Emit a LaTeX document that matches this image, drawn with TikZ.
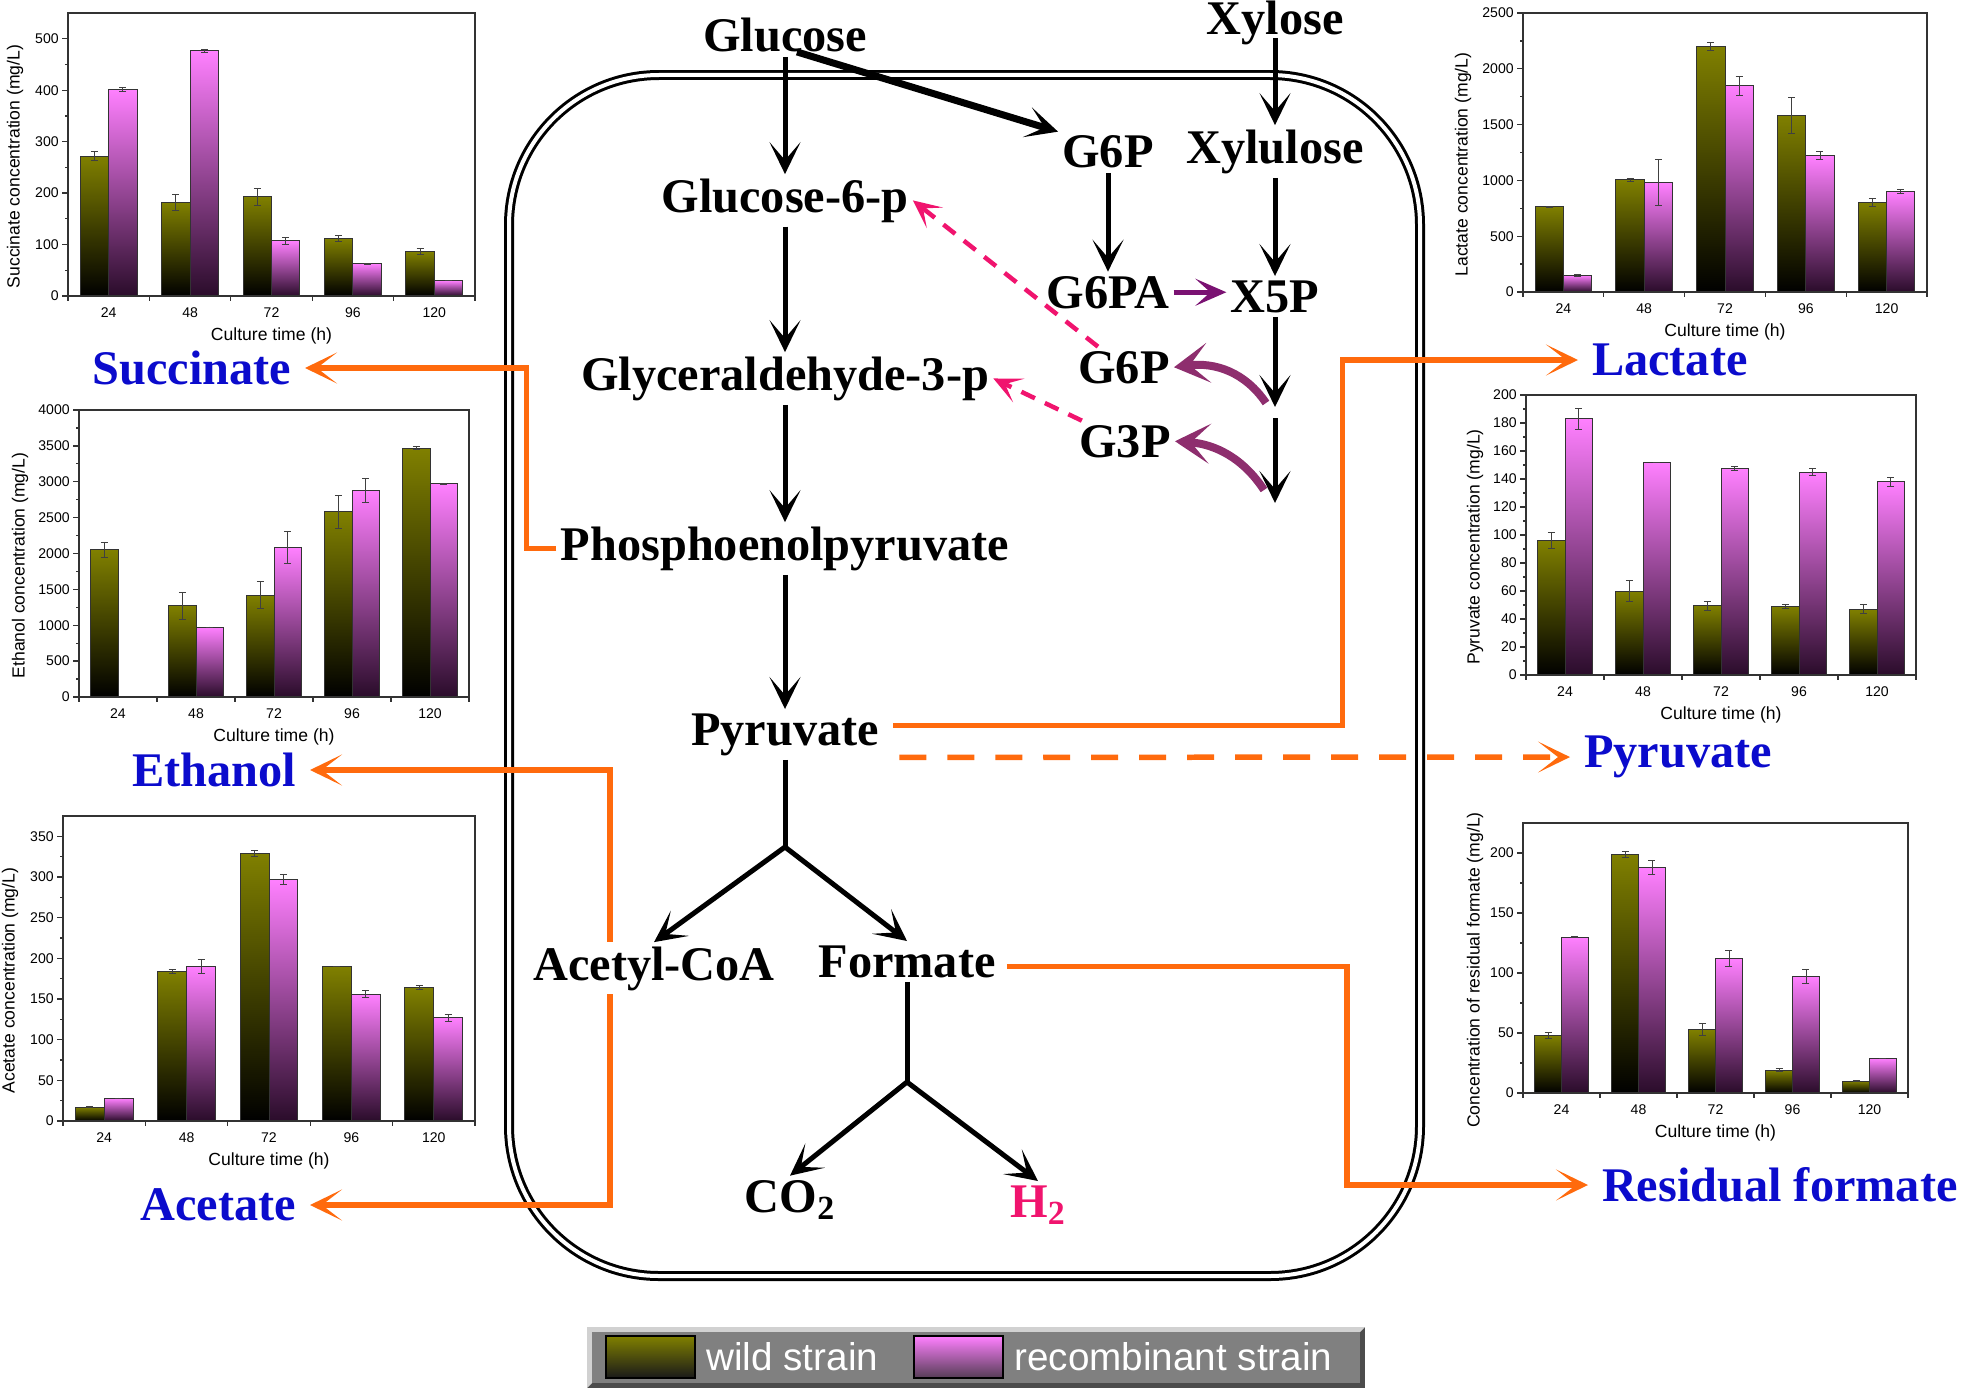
\documentclass[tikz,border=0pt]{standalone}
\usepackage{fontspec}
\setmainfont{Liberation Serif}
\newfontfamily\chartsans{Liberation Sans}
\usetikzlibrary{positioning,arrows.meta,calc}

\definecolor{outorange}{HTML}{FF6A0D}
\definecolor{prodblue}{HTML}{0B0BCC}
\definecolor{hpink}{HTML}{F0146E}
\definecolor{shuntpurple}{HTML}{7A1272}
\definecolor{backpurple}{HTML}{8E2E6E}
\definecolor{wildtop}{HTML}{808000}
\definecolor{rectop}{HTML}{FF80FF}
\definecolor{recbot}{HTML}{2A0C2A}

% #1,#2 axis corner (px), #3 width, #4 height, #5 top value, #6 label step,
% #7 y title, #8 title offset, #9 data wild/err/rec/err
\newcommand{\concchart}[9]{%
  \pgfmathsetmacro\chbw{#3/5}%
  \pgfmathsetmacro\chky{#4/#5}%
  \pgfmathtruncatemacro\chn{#5/#6+0.01}%
  \foreach \wv/\we/\rv/\re [count=\i] in {#9}{%
    \pgfmathsetmacro\chcx{#1+(\i-0.5)*\chbw}%
    \pgfmathtruncatemacro\chh{24*\i}%
    \shade[wildbar] ({\chcx-0.35*\chbw},#2) rectangle (\chcx,{#2-\wv*\chky});
    \shade[recbar] (\chcx,#2) rectangle ({\chcx+0.35*\chbw},{#2-\rv*\chky});
    \draw[errbar] ({\chcx-0.175*\chbw},{#2-(\wv-\we)*\chky}) -- ({\chcx-0.175*\chbw},{#2-(\wv+\we)*\chky});
    \draw[errbar] ({\chcx+0.175*\chbw},{#2-(\rv-\re)*\chky}) -- ({\chcx+0.175*\chbw},{#2-(\rv+\re)*\chky});
    \node[ticklab] at (\chcx,#2+17) {\chh};
  }
  \draw[axisline] (#1,{#2-#4}) rectangle ({#1+#3},#2);
  \foreach \i in {0,...,5}{\draw[axisline] ({#1+\i*\chbw},#2) -- ++(0,5);}
  \foreach \k in {1,...,\chn}{\draw[axisline] (#1,{#2-(\k-0.5)*#6*\chky}) -- ++(-3.5,0);}
  \foreach \k in {0,...,\chn}{%
    \pgfmathtruncatemacro\chv{\k*#6}%
    \draw[axisline] (#1,{#2-\k*#6*\chky}) -- ++(-6,0);
    \node[ticklab, anchor=east] at (#1-9,{#2-\k*#6*\chky}) {\chv};
  }
  \node[axtitle] at ({#1+#3/2},#2+40) {Culture time (h)};
  \node[axtitle, rotate=90] at (#1-#8,{#2-#4/2+12}) {#7};
}

\begin{document}
\begin{tikzpicture}[
  x=0.02cm, y=-0.02cm,
  met/.style={font=\bfseries\fontsize{27.5}{30}\selectfont, inner sep=0.08cm},
  prod/.style={met, text=prodblue, outer sep=0.2cm},
  flow/.style={-{Stealth[length=0.64cm,width=0.62cm,inset=0.36cm]}, line width=0.1cm},
  outline/.style={-{Stealth[length=0.64cm,width=0.62cm,inset=0.4cm]}, draw=outorange, line width=0.11cm},
  shunt/.style={-{Stealth[length=0.62cm,width=0.54cm,inset=0.3cm]}, draw=shuntpurple, line width=0.1cm},
  backflow/.style={-{Stealth[length=0.7cm,width=0.8cm,inset=0.38cm]}, draw=backpurple, line width=0.16cm},
  recycle/.style={-{Stealth[length=0.56cm,width=0.52cm,inset=0.3cm]}, draw=hpink, line width=0.09cm, dash pattern=on 0.3cm off 0.22cm},
  cellwall/.style={double, double distance=0.08cm, line width=0.06cm, rounded corners=3cm},
  wildbar/.style={draw=black!80, line width=0.02cm, top color=wildtop, bottom color=black},
  recbar/.style={draw=black!80, line width=0.02cm, top color=rectop, bottom color=recbot},
  errbar/.style={draw=black!75, line width=0.018cm, arrows={Bar[width=0.14cm]-Bar[width=0.14cm]}},
  axisline/.style={draw=black!80, line width=0.026cm},
  ticklab/.style={font=\chartsans\fontsize{8}{9}\selectfont, inner sep=0pt},
  axtitle/.style={font=\chartsans\fontsize{10}{12}\selectfont, inner sep=0pt},
  swatch/.style={draw=black, line width=0.04cm, minimum width=1.78cm, minimum height=0.84cm, inner sep=0pt},
  legtext/.style={text=white, font=\chartsans\fontsize{22}{24}\selectfont, inner sep=0pt}
]
\useasboundingbox (0,0) rectangle (1961,1389);

% cell
\draw[cellwall] (509,75) rectangle (1420,1276);

% charts
\concchart{68}{296}{407}{283}{550}{100}{Succinate concentration (mg/L)}{53}{272/10/402/5, 182/16/477/4, 193/17/107/7, 112/6/63/2, 86/7/30/1}
\concchart{79}{697}{390}{287}{4000}{500}{Ethanol concentration (mg/L)}{59}{2050/110/5/1, 1270/200/975/5, 1420/190/2080/230, 2580/240/2880/170, 3470/30/2970/8}
\concchart{63}{1121}{412}{305}{375}{50}{Acetate concentration (mg/L)}{53}{17/1/28/0.5, 184/3/190/9, 329/4/297/7, 190/1/156/5, 164/3/127/5}
\concchart{1523}{292}{404}{279}{2500}{500}{Lactate concentration (mg/L)}{60}{765/10/150/15, 1005/20/980/210, 2200/40/1850/90, 1585/165/1220/40, 805/40/900/25}
\concchart{1526}{675}{390}{280}{200}{20}{Pyruvate concentration (mg/L)}{51}{96/6/183/8, 60/8/152/0.5, 49.5/3.5/147.5/2, 49/2/145/3, 47/3.5/138/3.5}
\concchart{1523}{1093}{385}{270}{225}{50}{Concentration of residual formate (mg/L)}{48}{48/3/130/1, 199/3/188/6, 53/5/112/7, 19/1.5/97/6, 10/0.5/29/0.5}

% products
\node[prod, anchor=east] (succ) at (305,368) {Succinate};
\node[prod, anchor=east] (eth) at (310,770) {Ethanol};
\node[prod, anchor=east] (acet) at (310,1205) {Acetate};
\node[prod, anchor=west] (lact) at (1578,360) {Lactate};
\node[prod, anchor=west] (pyrb) at (1570,757) {Pyruvate};
\node[prod, anchor=west] (resid) at (1588,1185) {Residual formate};

% metabolites
\node[met, anchor=base] (glc) at (785,52) {Glucose};
\node[met, anchor=base] (g6p) at (785,212) {Glucose-6-p};
\node[met, anchor=base] (gap) at (785,390) {Glyceraldehyde-3-p};
\node[met, anchor=base] (pep) at (785,560) {Phosphoenolpyruvate};
\node[met, anchor=base] (pyr) at (785,745) {Pyruvate};
\node[met, anchor=base] (form) at (907,977) {Formate};
\node[met, anchor=base] (co2) at (790,1212) {CO\textsubscript{2}};
\node[met, anchor=base, text=hpink] (h2) at (1038,1217) {H\textsubscript{2}};
\node[met, anchor=base] (xyl) at (1275,35) {Xylose};
\node[met, anchor=base] (xlu) at (1275,163) {Xylulose};
\node[met, anchor=base] (gsp) at (1108,168) {G6P};
\node[met, anchor=base] (g6pa) at (1108,308) {G6PA};
\node[met, anchor=base] (x5p) at (1275,312) {X5P};
\node[met, anchor=base] (g6pb) at (1124,383) {G6P};
\node[met, anchor=base] (g3p) at (1125,457) {G3P};

% outputs
\draw[outline] (pep.west) -- ++(-30,0) |- (succ);
\coordinate (acj) at (610,1205);
\draw[outline, {Stealth[length=0.64cm,width=0.62cm,inset=0.4cm]}-{Stealth[length=0.64cm,width=0.62cm,inset=0.4cm]}] (eth) -| (acj) -- (acet);
\draw[outline] ([shift={(0.2cm,0.18cm)}]pyr.east) -- ++(449,0) |- (lact);
\draw[outline, dash pattern=on 0.54cm off 0.42cm] ([shift={(0.32cm,-0.46cm)}]pyr.east) -- (pyrb);
\draw[outline] ([shift={(0.14cm,-0.1cm)}]form.east) -- ++(340,0) |- (resid);

\node[met, anchor=base, fill=white] (acoa) at (654,980) {Acetyl-CoA};

% glycolysis
\coordinate (pbr) at (785,847);
\coordinate (fbr) at (907,1082);
\draw[flow] (glc) -- (g6p);
\draw[flow] (g6p) -- (gap);
\draw[flow] (gap) -- (pep);
\draw[flow] (pep) -- (pyr);
\draw[line width=0.1cm] (pyr) -- (pbr);
\draw[flow] (pbr) -- (acoa.north);
\draw[flow] (pbr) -- (form.north);
\draw[line width=0.1cm] (form) -- (fbr);
\draw[flow] (fbr) -- (co2.north);
\draw[flow] (fbr) -- (h2.north);

% xylose side
\coordinate (xd1) at (1275,407);
\coordinate (xd2) at (1275,418);
\coordinate (xd3) at (1275,503);
\coordinate (cv1) at (1266,403);
\coordinate (cv2) at (1264,490);
\draw[flow, line width=0.14cm] ([xshift=0.24cm,yshift=0.1cm]glc.south) -- (gsp.north west);
\draw[flow] ([yshift=0.24cm]xyl.south) -- (xlu);
\draw[flow] (gsp) -- (g6pa);
\draw[flow] (xlu) -- (x5p);
\draw[shunt] (g6pa.east) -- (g6pa.east -| x5p.west);
\draw[flow] (x5p) -- (xd1);
\draw[flow] (xd2) -- (xd3);
\draw[backflow] (cv1) .. controls (1245,372) and (1215,362) .. (g6pb.east);
\draw[backflow] (cv2) .. controls (1243,458) and (1215,444) .. (g3p.east);
\draw[recycle] (g6pb) -- (g6p.east);
\draw[recycle] (g3p) -- (gap.east);

% legend
\fill[black!70] (587,1327) rectangle (1365,1388);
\fill[black!18] (587,1388) -- (587,1327) -- (1365,1327) -- (1360,1332) -- (592,1332) -- (592,1383) -- cycle;
\fill[black!50] (592,1332) rectangle (1360,1383);
\node[swatch, top color=wildtop, bottom color=black!90] (wsw) at (650.5,1357) {};
\node[legtext, right=0.2cm of wsw] (wlab) {wild strain};
\node[swatch, top color=rectop, bottom color=recbot!80] (rsw) at (958.5,1357) {};
\node[legtext, right=0.2cm of rsw] (rlab) {recombinant strain};
\end{tikzpicture}
\end{document}
